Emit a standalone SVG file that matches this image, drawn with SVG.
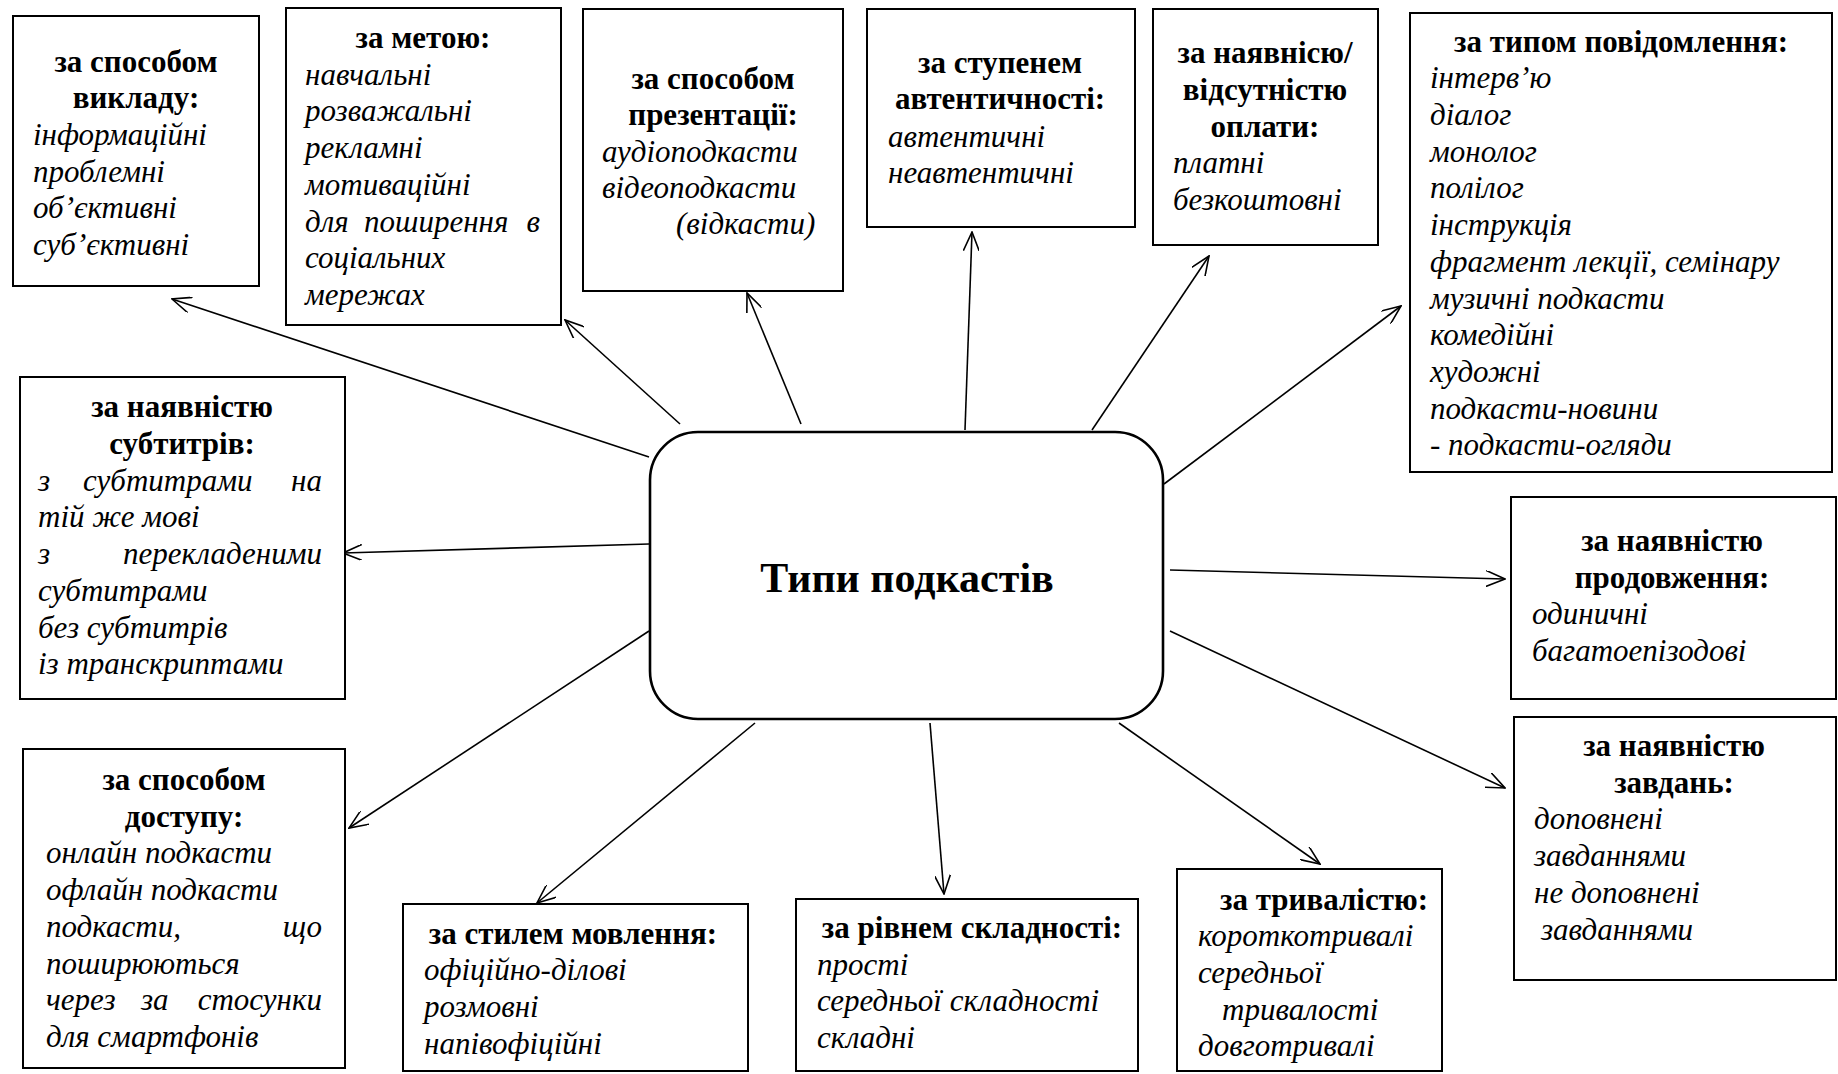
<svg xmlns="http://www.w3.org/2000/svg" width="1838" height="1074" viewBox="0 0 1838 1074">
  <style>
    .box { fill: #fff; stroke: #000; stroke-width: 2; }
    .core { fill: #fff; stroke: #000; stroke-width: 2.6; }
    .hd { font-family: "Liberation Serif", "Times New Roman", serif; font-weight: bold; font-size: 31px; text-anchor: middle; fill: #000; }
    .it { font-family: "Liberation Serif", "Times New Roman", serif; font-style: italic; font-size: 31px; fill: #000; }
    .end { text-anchor: end; }
    .title { font-family: "Liberation Serif", "Times New Roman", serif; font-weight: bold; font-size: 42px; text-anchor: middle; fill: #000; }
    .link { stroke: #000; stroke-width: 1.6; fill: none; marker-end: url(#vee); }
  </style>
  <defs>
    <marker id="vee" viewBox="0 0 20 16" refX="19" refY="8" markerWidth="20" markerHeight="16" markerUnits="userSpaceOnUse" orient="auto">
      <path d="M0,0 L19,8 L0,16" fill="none" stroke="#000" stroke-width="1.6"/>
    </marker>
  </defs>
  <rect width="1838" height="1074" fill="#fff"/>

  <!-- connectors from the central node -->
  <g id="connectors">
    <line class="link" x1="649" y1="457" x2="172" y2="299"/>
    <line class="link" x1="680" y1="424" x2="565" y2="320"/>
    <line class="link" x1="801" y1="424" x2="747" y2="293"/>
    <line class="link" x1="965" y1="430" x2="972" y2="232"/>
    <line class="link" x1="1092" y1="430" x2="1209" y2="256"/>
    <line class="link" x1="1164" y1="484" x2="1401" y2="306"/>
    <line class="link" x1="649" y1="544" x2="343" y2="553"/>
    <line class="link" x1="1170" y1="570" x2="1505" y2="579"/>
    <line class="link" x1="1170" y1="631" x2="1505" y2="788"/>
    <line class="link" x1="649" y1="631" x2="349" y2="828"/>
    <line class="link" x1="755" y1="723" x2="537" y2="903"/>
    <line class="link" x1="930" y1="723" x2="944" y2="894"/>
    <line class="link" x1="1119" y1="723" x2="1320" y2="864"/>
  </g>

  <g id="center">
    <rect class="core" x="650" y="432" width="513" height="287" rx="48" ry="48"/>
    <text class="title" x="907" y="592">Типи подкастів</text>
  </g>

  <g id="vyklad">
    <rect class="box" x="13" y="16" width="246" height="270"/>
    <text class="hd" x="136" y="71.5">за способом</text>
    <text class="hd" x="136" y="108.2">викладу:</text>
    <text class="it" x="33" y="144.9">інформаційні</text>
    <text class="it" x="33" y="181.6">проблемні</text>
    <text class="it" x="33" y="218.3">об’єктивні</text>
    <text class="it" x="33" y="255">суб’єктивні</text>
  </g>

  <g id="meta">
    <rect class="box" x="286" y="8" width="275" height="317"/>
    <text class="hd" x="423" y="48">за метою:</text>
    <text class="it" x="305" y="84.7">навчальні</text>
    <text class="it" x="305" y="121.4">розважальні</text>
    <text class="it" x="305" y="158.1">рекламні</text>
    <text class="it" x="305" y="194.8">мотиваційні</text>
    <text class="it" x="305" y="231.5">для</text>
    <text class="it" x="364" y="231.5">поширення</text>
    <text class="it end" x="540" y="231.5">в</text>
    <text class="it" x="305" y="268.2">соціальних</text>
    <text class="it" x="305" y="304.9">мережах</text>
  </g>

  <g id="prezentatsiia">
    <rect class="box" x="583" y="9" width="260" height="282"/>
    <text class="hd" x="713" y="89">за способом</text>
    <text class="hd" x="713" y="125.4">презентації:</text>
    <text class="it" x="602" y="161.8">аудіоподкасти</text>
    <text class="it" x="602" y="198">відеоподкасти</text>
    <text class="it" x="676" y="234.4">(відкасти)</text>
  </g>

  <g id="avtentychnist">
    <rect class="box" x="867" y="9" width="268" height="218"/>
    <text class="hd" x="1000" y="72.7">за ступенем</text>
    <text class="hd" x="1000" y="108.9">автентичності:</text>
    <text class="it" x="888" y="146.5">автентичні</text>
    <text class="it" x="888" y="182.9">неавтентичні</text>
  </g>

  <g id="oplata">
    <rect class="box" x="1153" y="9" width="225" height="236"/>
    <text class="hd" x="1265" y="63.3">за наявнісю/</text>
    <text class="hd" x="1265" y="100">відсутністю</text>
    <text class="hd" x="1265" y="136.7">оплати:</text>
    <text class="it" x="1173" y="173.4">платні</text>
    <text class="it" x="1173" y="210">безкоштовні</text>
  </g>

  <g id="povidomlennia">
    <rect class="box" x="1410" y="13" width="422" height="459"/>
    <text class="hd" x="1621" y="51.6">за типом повідомлення:</text>
    <text class="it" x="1430" y="88.3">інтерв’ю</text>
    <text class="it" x="1430" y="125">діалог</text>
    <text class="it" x="1430" y="161.7">монолог</text>
    <text class="it" x="1430" y="198.4">полілог</text>
    <text class="it" x="1430" y="235.1">інструкція</text>
    <text class="it" x="1430" y="271.8">фрагмент лекції, семінару</text>
    <text class="it" x="1430" y="308.5">музичні подкасти</text>
    <text class="it" x="1430" y="345.2">комедійні</text>
    <text class="it" x="1430" y="381.9">художні</text>
    <text class="it" x="1430" y="418.6">подкасти-новини</text>
    <text class="it" x="1430" y="455.3">- подкасти-огляди</text>
  </g>

  <g id="subtytry">
    <rect class="box" x="20" y="377" width="325" height="322"/>
    <text class="hd" x="182" y="417.3">за наявністю</text>
    <text class="hd" x="182" y="454">субтитрів:</text>
    <text class="it" x="38" y="490.7">з</text>
    <text class="it" x="83" y="490.7">субтитрами</text>
    <text class="it end" x="322" y="490.7">на</text>
    <text class="it" x="38" y="527.4">тій же мові</text>
    <text class="it" x="38" y="564.1">з</text>
    <text class="it end" x="322" y="564.1">перекладеними</text>
    <text class="it" x="38" y="600.8">субтитрами</text>
    <text class="it" x="38" y="637.5">без субтитрів</text>
    <text class="it" x="38" y="674.2">із транскриптами</text>
  </g>

  <g id="prodovzhennia">
    <rect class="box" x="1511" y="497" width="325" height="202"/>
    <text class="hd" x="1672" y="551">за наявністю</text>
    <text class="hd" x="1672" y="587.7">продовження:</text>
    <text class="it" x="1532" y="624.4">одиничні</text>
    <text class="it" x="1532" y="661.1">багатоепізодові</text>
  </g>

  <g id="zavdannia">
    <rect class="box" x="1514" y="717" width="322" height="263"/>
    <text class="hd" x="1674" y="756">за наявністю</text>
    <text class="hd" x="1674" y="792.7">завдань:</text>
    <text class="it" x="1534" y="829.4">доповнені</text>
    <text class="it" x="1534" y="866.1">завданнями</text>
    <text class="it" x="1534" y="902.8">не доповнені</text>
    <text class="it" x="1541" y="939.5">завданнями</text>
  </g>

  <g id="dostup">
    <rect class="box" x="23" y="749" width="322" height="319"/>
    <text class="hd" x="184" y="790">за способом</text>
    <text class="hd" x="184" y="826.7">доступу:</text>
    <text class="it" x="46" y="863.4">онлайн подкасти</text>
    <text class="it" x="46" y="900.1">офлайн подкасти</text>
    <text class="it" x="46" y="936.8">подкасти,</text>
    <text class="it end" x="322" y="936.8">що</text>
    <text class="it" x="46" y="973.5">поширюються</text>
    <text class="it" x="46" y="1010.2">через</text>
    <text class="it" x="141" y="1010.2">за</text>
    <text class="it end" x="322" y="1010.2">стосунки</text>
    <text class="it" x="46" y="1046.9">для смартфонів</text>
  </g>

  <g id="styl">
    <rect class="box" x="403" y="904" width="345" height="167"/>
    <text class="hd" x="573" y="943.6">за стилем мовлення:</text>
    <text class="it" x="424" y="980.3">офіційно-ділові</text>
    <text class="it" x="424" y="1017">розмовні</text>
    <text class="it" x="424" y="1053.7">напівофіційні</text>
  </g>

  <g id="skladnist">
    <rect class="box" x="796" y="899" width="342" height="172"/>
    <text class="hd" x="972" y="937.8">за рівнем складності:</text>
    <text class="it" x="817" y="974.5">прості</text>
    <text class="it" x="817" y="1011.2">середньої складності</text>
    <text class="it" x="817" y="1047.9">складні</text>
  </g>

  <g id="tryvalist">
    <rect class="box" x="1177" y="869" width="265" height="202"/>
    <text class="hd" x="1324" y="909.6">за тривалістю:</text>
    <text class="it" x="1198" y="946.3">короткотривалі</text>
    <text class="it" x="1198" y="983">середньої</text>
    <text class="it" x="1222" y="1019.7">тривалості</text>
    <text class="it" x="1198" y="1056.4">довготривалі</text>
  </g>
</svg>
